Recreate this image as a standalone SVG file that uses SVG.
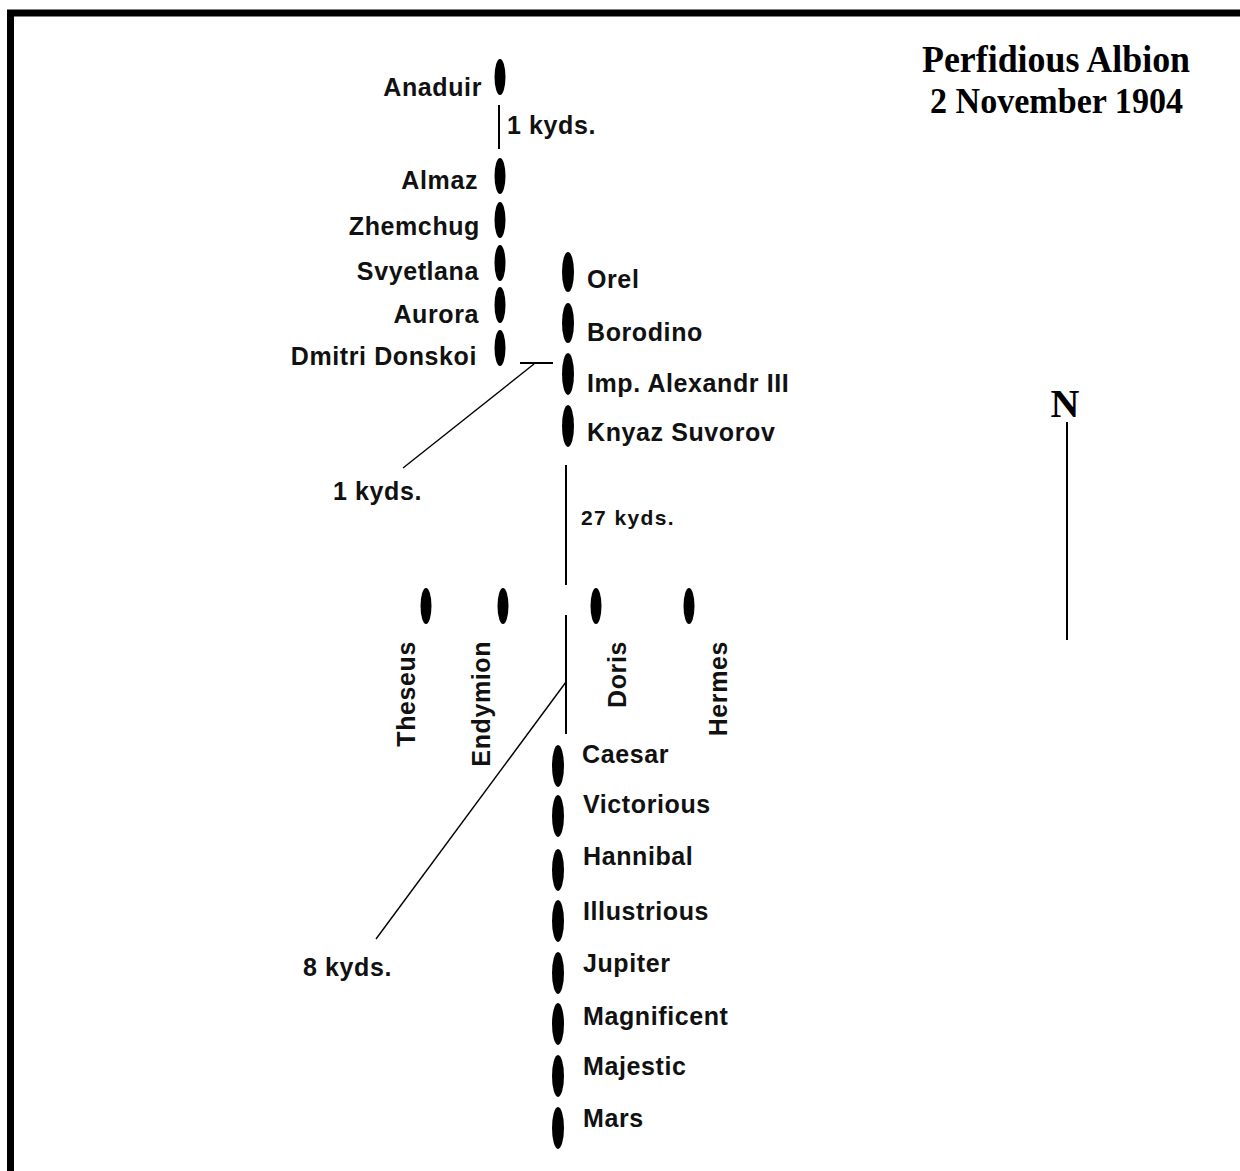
<svg xmlns="http://www.w3.org/2000/svg" width="1240" height="1171" viewBox="0 0 1240 1171">
<style>
.lbl{font-family:"Liberation Sans",Arial,sans-serif;font-weight:bold;font-size:25px;letter-spacing:0.6px;fill:#111}
.sm{font-size:21px;letter-spacing:1.4px}
.r{text-anchor:end}
.ship{fill:#000}
.ln{stroke:#000;stroke-width:2;fill:none}
.thin{stroke:#000;stroke-width:1.4;fill:none}
.gothic{font-family:"Liberation Serif","Times New Roman",serif;font-weight:bold;fill:#000}
</style>
<rect x="0" y="0" width="1240" height="1171" fill="#fff"/>
<rect x="10.5" y="13" width="1400" height="1400" fill="none" stroke="#000" stroke-width="7"/>

<g id="title">
<text class="gothic" x="922" y="72" font-size="38" textLength="268" lengthAdjust="spacingAndGlyphs">Perfidious Albion</text>
<text class="gothic" x="930" y="113" font-size="36" textLength="253" lengthAdjust="spacingAndGlyphs">2 November 1904</text>
</g>

<g id="north">
<text class="gothic" x="1065" y="417" font-size="40" text-anchor="middle">N</text>
<line class="ln" x1="1067" y1="422" x2="1067" y2="640"/>
</g>

<g id="connectors">
<line class="ln" x1="499" y1="105" x2="499" y2="149"/>
<line class="ln" x1="520" y1="363" x2="553" y2="363"/>
<line class="thin" x1="534" y1="364" x2="403" y2="468"/>
<line class="ln" x1="566" y1="465" x2="566" y2="585"/>
<line class="ln" x1="566" y1="615" x2="566" y2="734"/>
<line class="thin" x1="566" y1="682" x2="376" y2="939"/>
</g>

<g id="dist-labels">
<text class="lbl" x="507" y="134">1 kyds.</text>
<text class="lbl" x="333" y="500">1 kyds.</text>
<text class="lbl sm" x="581" y="525">27 kyds.</text>
<text class="lbl" x="303" y="976">8 kyds.</text>
</g>

<g id="anaduir"><ellipse class="ship" cx="500" cy="77" rx="5.5" ry="18"/><text class="lbl r" x="482" y="96">Anaduir</text></g>
<g id="almaz"><ellipse class="ship" cx="500" cy="176" rx="5.5" ry="18"/><text class="lbl r" x="478" y="189">Almaz</text></g>
<g id="zhemchug"><ellipse class="ship" cx="500" cy="220" rx="5.5" ry="18"/><text class="lbl r" x="480" y="235">Zhemchug</text></g>
<g id="svyetlana"><ellipse class="ship" cx="500" cy="263" rx="5.5" ry="18"/><text class="lbl r" x="479" y="280">Svyetlana</text></g>
<g id="aurora"><ellipse class="ship" cx="500" cy="305" rx="5.5" ry="18"/><text class="lbl r" x="479" y="323">Aurora</text></g>
<g id="dmitri-donskoi"><ellipse class="ship" cx="500" cy="348" rx="5.5" ry="18"/><text class="lbl r" x="477" y="365">Dmitri Donskoi</text></g>

<g id="orel"><ellipse class="ship" cx="568" cy="272" rx="6" ry="20"/><text class="lbl" x="587" y="288">Orel</text></g>
<g id="borodino"><ellipse class="ship" cx="568" cy="323" rx="6" ry="20"/><text class="lbl" x="587" y="341">Borodino</text></g>
<g id="imp-alexandr-iii"><ellipse class="ship" cx="568" cy="374" rx="6" ry="21"/><text class="lbl" x="587" y="392">Imp. Alexandr III</text></g>
<g id="knyaz-suvorov"><ellipse class="ship" cx="568" cy="426" rx="6" ry="21"/><text class="lbl" x="587" y="441">Knyaz Suvorov</text></g>

<g id="theseus"><ellipse class="ship" cx="426" cy="606" rx="5.5" ry="18"/><text class="lbl r" transform="translate(415,641) rotate(-90)">Theseus</text></g>
<g id="endymion"><ellipse class="ship" cx="503" cy="606" rx="5.5" ry="18"/><text class="lbl r" transform="translate(490,641) rotate(-90)">Endymion</text></g>
<g id="doris"><ellipse class="ship" cx="596" cy="606" rx="5.5" ry="18"/><text class="lbl r" transform="translate(626,641) rotate(-90)">Doris</text></g>
<g id="hermes"><ellipse class="ship" cx="689" cy="606" rx="5.5" ry="18"/><text class="lbl r" transform="translate(727,641) rotate(-90)">Hermes</text></g>

<g id="caesar"><ellipse class="ship" cx="558" cy="766" rx="6" ry="21"/><text class="lbl" x="582" y="763">Caesar</text></g>
<g id="victorious"><ellipse class="ship" cx="558" cy="816" rx="6" ry="21"/><text class="lbl" x="583" y="813">Victorious</text></g>
<g id="hannibal"><ellipse class="ship" cx="558" cy="870" rx="6" ry="21"/><text class="lbl" x="583" y="865">Hannibal</text></g>
<g id="illustrious"><ellipse class="ship" cx="558" cy="921" rx="6" ry="21"/><text class="lbl" x="583" y="920">Illustrious</text></g>
<g id="jupiter"><ellipse class="ship" cx="558" cy="973" rx="6" ry="21"/><text class="lbl" x="583" y="972">Jupiter</text></g>
<g id="magnificent"><ellipse class="ship" cx="558" cy="1024" rx="6" ry="21"/><text class="lbl" x="583" y="1025">Magnificent</text></g>
<g id="majestic"><ellipse class="ship" cx="558" cy="1076" rx="6" ry="21"/><text class="lbl" x="583" y="1075">Majestic</text></g>
<g id="mars"><ellipse class="ship" cx="558" cy="1128" rx="6" ry="21"/><text class="lbl" x="583" y="1127">Mars</text></g>
</svg>
